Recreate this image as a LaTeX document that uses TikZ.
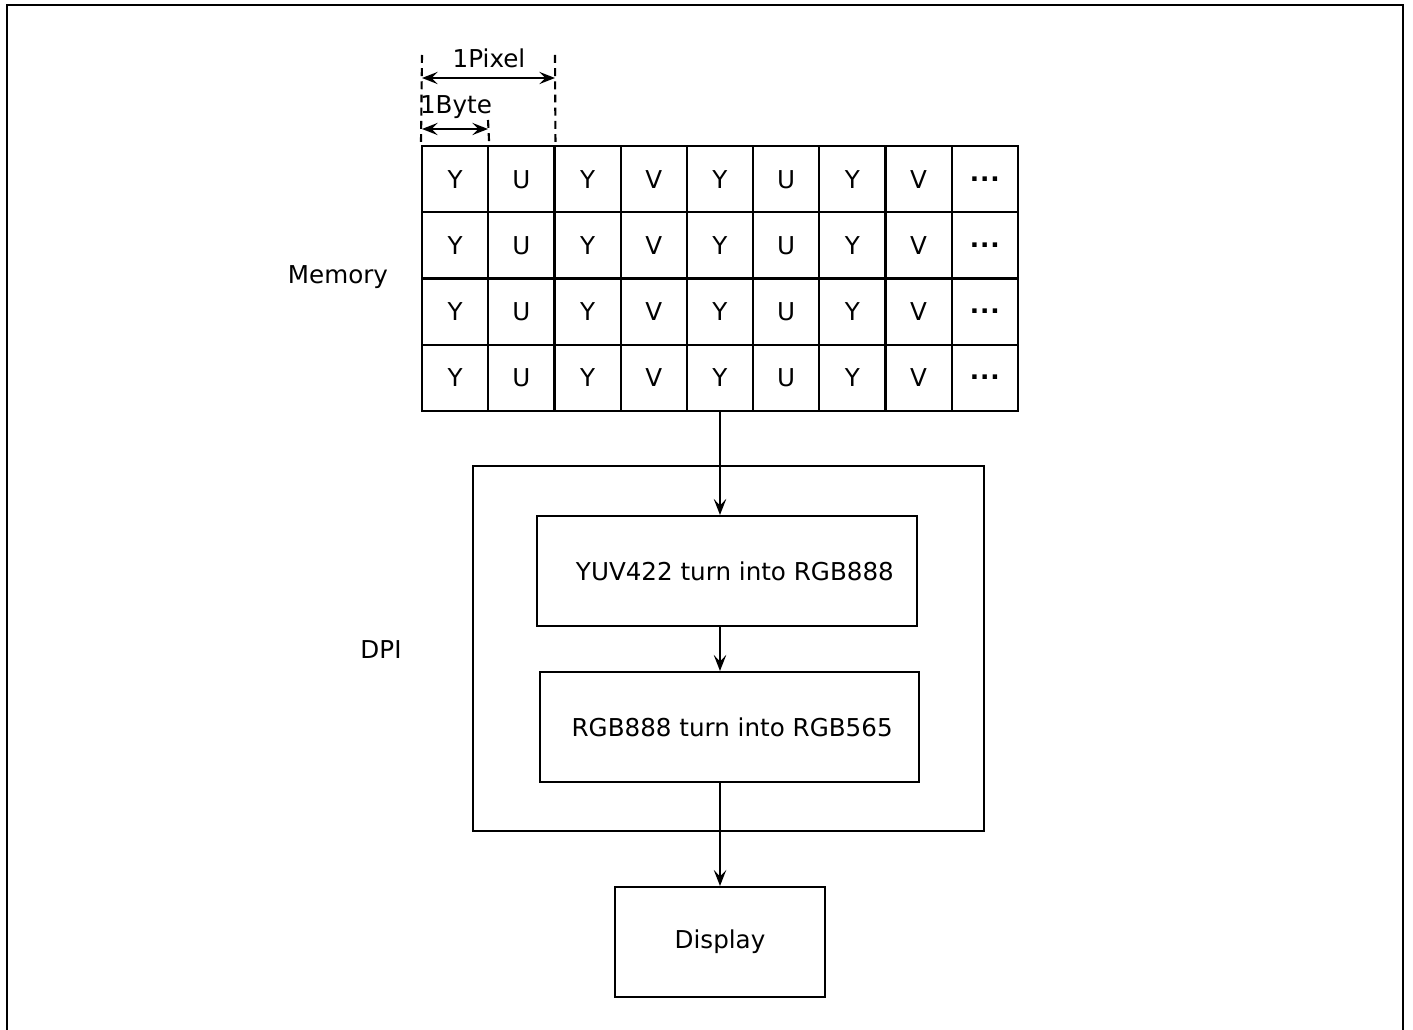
\documentclass[tikz,border=0pt]{standalone}
\usepackage{fontspec}
\setmainfont{DejaVu Sans}
\usetikzlibrary{positioning,arrows.meta}
\tikzset{
  cell/.style={draw,line width=1.2pt,minimum width=1.324cm,minimum height=1.325cm,inner sep=0pt,text height=10.2pt,text depth=0pt},
  stagebox/.style={draw,line width=1.2pt,inner sep=0pt},
  flow/.style={line width=1.2pt,-{Stealth[length=9pt,width=7pt,inset=3.5pt]}},
  dim/.style={line width=1.2pt,{Stealth[length=9pt,width=7pt,inset=3.5pt]}-{Stealth[length=9pt,width=7pt,inset=3.5pt]}},
  guide/.style={line width=1.2pt,dash pattern=on 4.5pt off 3pt}
}
\newcommand{\moredots}{\raisebox{4pt}{\textbf{.\kern0.5pt.\kern0.5pt.}}}
\begin{document}
\begin{tikzpicture}[x=0.02cm,y=-0.02cm,font=\fontsize{14}{17}\selectfont]
  \useasboundingbox (0,0) rectangle (1413,1030);
  % outer frame (open at the bottom)
  \draw[line width=1.2pt] (7,1030) -- (7,5) -- (1403,5) -- (1403,1030);
  % memory grid
  \foreach \r in {1,...,4} {
    \foreach \c/\t in {1/Y,2/U,3/Y,4/V,5/Y,6/U,7/Y,8/V,9/\moredots} {
      \node[cell] (c-\r-\c) at ({422+66.22*(\c-0.5)},{146+66.25*(\r-0.5)}) {\t};
    }
  }
  \node (mem) at (338,277) {Memory};
  % byte / pixel widths
  \coordinate (p0) at (422,55);
  \coordinate (p1) at (555,55);
  \coordinate (b1) at (488,120);
  \draw[guide] (p0) -- (c-1-1.north west);
  \draw[guide] (p1) -- (c-1-2.north east);
  \draw[guide] (b1) -- (c-1-1.north east);
  \draw[dim] (422,78) -- (555,78);
  \draw[dim] (422,129) -- (488,129);
  \node (pix) at (489,58) {1Pixel};
  \node (byte) at (456,107) {1Byte};
  % DPI block
  \node[stagebox,minimum width=10.22cm,minimum height=7.3cm] (dpi) at (728.5,648.5) {};
  \node (dpilbl) at (381,650) {DPI};
  \node[stagebox,minimum width=7.6cm,minimum height=2.2cm] (yuv) at (727,571) {\hspace{9pt}YUV422 turn into RGB888};
  \node[stagebox,minimum width=7.58cm,minimum height=2.2cm] (rgb) at (729.5,727) {\hspace{3pt}RGB888 turn into RGB565};
  \node[stagebox,minimum width=4.2cm,minimum height=2.2cm] (disp) at (720,942) {Display};
  % data flow
  \draw[flow] (c-4-5.south) -- (c-4-5.south |- yuv.north);
  \draw[flow] (c-4-5.south |- yuv.south) -- (c-4-5.south |- rgb.north);
  \draw[flow] (disp.north |- rgb.south) -- (disp.north);
\end{tikzpicture}
\end{document}
